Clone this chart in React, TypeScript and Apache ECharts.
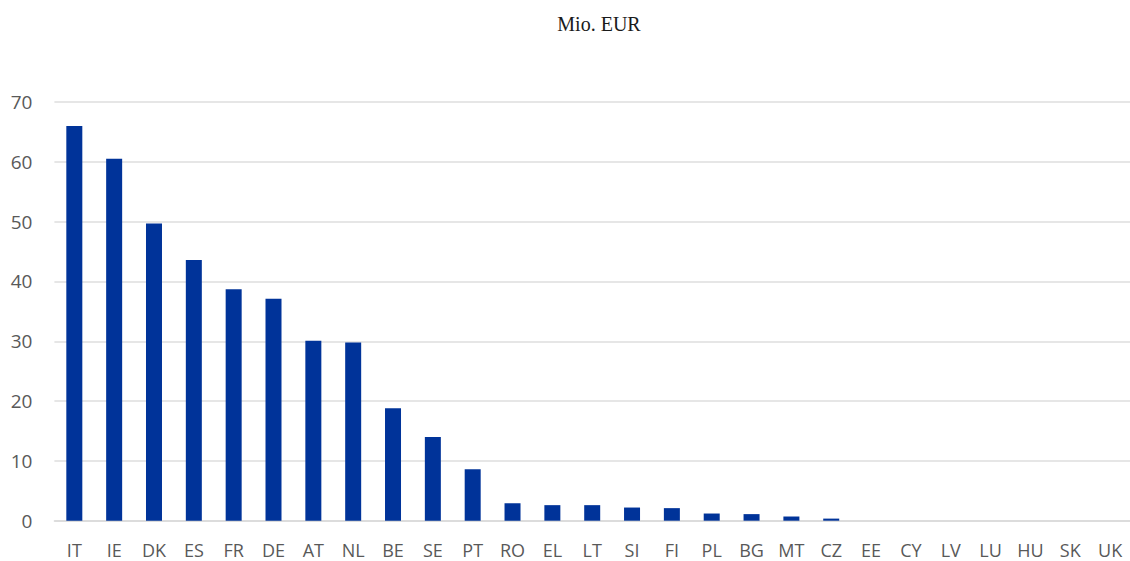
import React, { useEffect, useRef } from "react";
import * as echarts from "echarts";

const categories = ["IT", "IE", "DK", "ES", "FR", "DE", "AT", "NL", "BE", "SE", "PT", "RO", "EL", "LT", "SI", "FI", "PL", "BG", "MT", "CZ", "EE", "CY", "LV", "LU", "HU", "SK", "UK"];
const values = [66.0, 60.5, 49.7, 43.6, 38.7, 37.1, 30.1, 29.8, 18.8, 14.0, 8.6, 2.9, 2.6, 2.6, 2.2, 2.1, 1.2, 1.1, 0.7, 0.35, 0, 0, 0, 0, 0, 0, 0];
const titleText = "Mio. EUR";

export default function App() {
  const ref = useRef<HTMLDivElement>(null);
  useEffect(() => {
    if (!ref.current) return;
    const chart = echarts.init(ref.current, undefined, { renderer: "svg" });
    chart.setOption({
      animation: false,
      backgroundColor: "#ffffff",
      graphic: [
        {
          type: "text",
          x: 599,
          y: 24,
          style: {
            text: titleText,
            textAlign: "center",
            textVerticalAlign: "middle",
            font: '20px "Liberation Serif", "Times New Roman", serif',
            fill: "#1a1a1a",
          },
        },
      ],
      grid: { left: 54.4, right: -11.1, top: 102, bottom: 40.3, containLabel: false },
      xAxis: {
        type: "category",
        data: categories,
        axisLine: { show: true, lineStyle: { color: "#d9d9d9", width: 1.5 } },
        axisTick: { show: false },
        axisLabel: {
          color: "#595959",
          fontSize: 18,
          lineHeight: 16,
          fontFamily: '"Open Sans", sans-serif',
          margin: 21,
          interval: 0,
        },
      },
      yAxis: {
        type: "value",
        min: 0,
        max: 70,
        interval: 10,
        axisLine: { show: false },
        axisTick: { show: false },
        splitLine: { lineStyle: { color: "#dedede", width: 1.5 } },
        axisLabel: {
          color: "#595959",
          fontSize: 19,
          fontFamily: '"Open Sans", sans-serif',
          margin: 22,
        },
      },
      series: [
        {
          type: "bar",
          data: values,
          barWidth: 16,
          itemStyle: { color: "#003399" },
        },
      ],
    });
    return () => chart.dispose();
  }, []);
  return (
    <div
      ref={ref}
      style={{ position: "fixed", left: 0, top: 0, width: 1130, height: 561 }}
    />
  );
}
